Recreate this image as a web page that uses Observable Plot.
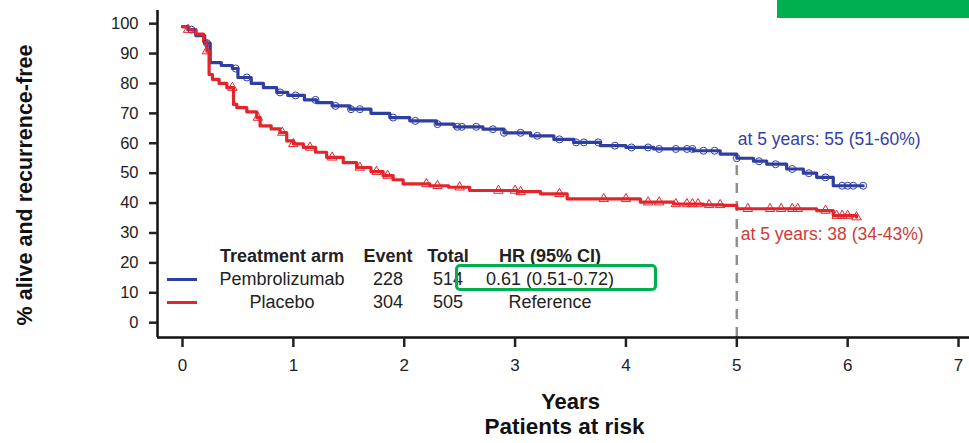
<!DOCTYPE html>
<html>
<head>
<meta charset="utf-8">
<script src="https://cdn.jsdelivr.net/npm/d3@7"></script>
<script src="https://cdn.jsdelivr.net/npm/@observablehq/plot@0.6"></script>
<style>
  html, body { margin: 0; padding: 0; background: #fff; }
  #wrap { position: relative; width: 969px; height: 443px; font-family: "Liberation Sans", Arial, sans-serif; color: #222; }
  .cell { position: absolute; transform: translate(-50%, -50%); white-space: nowrap; font-size: 18px; }
  .hdr { font-weight: bold; }
  .lline { position: absolute; height: 3px; }
</style>
</head>
<body>
<div id="wrap"></div>
<script>
// ---- data ----
const pembroT = [0, 0.05, 0.12, 0.2, 0.25, 0.35, 0.45, 0.5, 0.62, 0.73, 0.85, 0.95, 1.1, 1.21, 1.35, 1.51, 1.7, 1.87, 2.05, 2.29, 2.45, 2.71, 2.9, 3.14, 3.35, 3.53, 3.77, 4.0, 4.25, 4.61, 4.85, 5.0, 5.15, 5.27, 5.45, 5.6, 5.72, 5.87, 6.14];
const pembroS = [99, 98, 96, 93.5, 87, 86, 85, 82, 80, 78.6, 77, 76, 74.5, 73.6, 72.5, 71.4, 70, 68.6, 67.5, 66.4, 65.5, 64.7, 63.5, 62.5, 61.3, 60.3, 59.2, 58.6, 58.1, 57.5, 56.4, 55, 54, 53, 51.4, 50, 48.6, 45.8, 45.8];
const placeboT = [0, 0.05, 0.12, 0.19, 0.22, 0.24, 0.27, 0.33, 0.40, 0.46, 0.49, 0.58, 0.67, 0.70, 0.80, 0.88, 0.94, 1.0, 1.09, 1.2, 1.30, 1.45, 1.57, 1.7, 1.81, 1.9, 1.99, 2.23, 2.4, 2.59, 3.02, 3.23, 3.47, 3.83, 4.13, 4.43, 4.7, 4.88, 5.0, 5.27, 5.72, 5.87, 6.08];
const placeboS = [99, 98, 96.5, 94, 90.8, 83, 81.4, 80, 78.6, 73, 71.9, 70.5, 68.6, 65.8, 64.8, 63.6, 60.8, 59.8, 58.6, 57, 55.3, 53.5, 51.9, 50.5, 49.2, 47.8, 46.4, 45.8, 45.3, 44.2, 43.8, 43.1, 41.4, 41.4, 40.3, 39.7, 39.4, 39.2, 38.1, 38.1, 37.5, 35.8, 35.3];
const pembroCensor = [0.08, 0.22, 0.48, 0.58, 0.88, 1.02, 1.2, 1.38, 1.52, 1.6, 1.9, 2.1, 2.3, 2.48, 2.52, 2.65, 2.8, 2.9, 3.05, 3.2, 3.4, 3.55, 3.62, 3.75, 3.9, 4.05, 4.2, 4.3, 4.45, 4.55, 4.6, 4.7, 4.8, 5.0, 5.2, 5.35, 5.5, 5.65, 5.8, 5.95, 6.0, 6.05, 6.14];
const placeboCensor = [0.05, 0.22, 0.45, 0.68, 0.9, 1.0, 1.15, 1.35, 1.6, 1.75, 1.85, 2.2, 2.3, 2.5, 2.85, 3.0, 3.05, 3.4, 3.8, 4.0, 4.2, 4.3, 4.45, 4.55, 4.6, 4.65, 4.75, 4.85, 5.1, 5.3, 5.4, 5.5, 5.55, 5.8, 5.9, 5.95, 6.0, 6.08];
const xTicks = [0, 1, 2, 3, 4, 5, 6, 7];
const yTicks = [0, 10, 20, 30, 40, 50, 60, 70, 80, 90, 100];
const landmarkYear = 5;
const landmarkValues = [55, 38];
const landmarkLabels = ["at 5 years: 55 (51-60%)", "at 5 years: 38 (34-43%)"];
const legendHeaders = ["Treatment arm", "Event", "Total", "HR (95% CI)"];
const arms = ["Pembrolizumab", "Placebo"];
const events = [228, 304];
const totals = [514, 505];
const hrs = ["0.61 (0.51-0.72)", "Reference"];
const yLabel = "% alive and recurrence-free";
const xLabel = "Years";
const riskLabel = "Patients at risk";

// ---- styles ----
const colors = ["#2f3ea3", "#e3242b"];
const textColors = ["#3340a8", "#d23a36"];
const green = "#00b050";

// ---- build ----
const toRows = (T, S, arm) => T.map((t, i) => ({t, s: S[i], arm}));
const curves = [...toRows(pembroT, pembroS, arms[0]), ...toRows(placeboT, placeboS, arms[1])];
const stepAt = (T, S, t) => { let v = S[0]; for (let i = 0; i < T.length; i++) if (T[i] <= t) v = S[i]; return v; };
const censorP = pembroCensor.map(t => ({t, s: stepAt(pembroT, pembroS, t)}));
const censorR = placeboCensor.map(t => ({t, s: stepAt(placeboT, placeboS, t)}));
const xDom = [-0.2255, 7.099];
const yDom = [-4.95, 104.4];

const chart = Plot.plot({
  width: 969, height: 443,
  marginLeft: 157, marginRight: 0, marginTop: 10, marginBottom: 106,
  x: {domain: xDom, axis: null},
  y: {domain: yDom, axis: null},
  style: {fontFamily: "'Liberation Sans', Arial, sans-serif", background: "white", color: "#222"},
  marks: [
    Plot.ruleX([landmarkYear], {y1: yDom[0], y2: landmarkValues[0], stroke: "#8f8f8f", strokeWidth: 2.5, strokeDasharray: "10,8"}),
    Plot.line(curves, {x: "t", y: "s", z: "arm", stroke: d => d.arm === arms[0] ? colors[0] : colors[1], strokeWidth: 3.2, curve: "step-after"}),
    Plot.dot(censorP, {x: "t", y: "s", symbol: "circle", r: 3.5, stroke: colors[0], strokeWidth: 1, fill: "none"}),
    Plot.dot(censorR, {x: "t", y: "s", symbol: "triangle", r: 3.5, stroke: colors[1], strokeWidth: 1, fill: "none"}),
    Plot.ruleX([xDom[0]], {stroke: "#111", strokeWidth: 2.5}),
    Plot.ruleY([yDom[0]], {stroke: "#111", strokeWidth: 2.5}),
    Plot.axisY({ticks: yTicks, anchor: "left", tickSize: 8, tickPadding: 11, fontSize: 16.5, strokeWidth: 2.5, label: null}),
    Plot.axisX({ticks: xTicks, anchor: "bottom", tickSize: 10, tickPadding: 11, fontSize: 17, strokeWidth: 2.5, label: null}),
    Plot.text([landmarkLabels[0]], {x: landmarkYear, y: landmarkValues[0], dx: 1, dy: -19, textAnchor: "start", fill: textColors[0], fontSize: 17.5}),
    Plot.text([landmarkLabels[1]], {x: landmarkYear, y: landmarkValues[1], dx: 4, dy: 25, textAnchor: "start", fill: textColors[1], fontSize: 17.5}),
    Plot.text([xLabel], {frameAnchor: "bottom", dx: 7, dy: 71, fontSize: 22, fontWeight: "bold", fill: "#111"}),
    Plot.text([riskLabel], {frameAnchor: "bottom", dx: 1, dy: 96, fontSize: 22.5, fontWeight: "bold", fill: "#111"}),
    Plot.text([yLabel], {frameAnchor: "left", textAnchor: "middle", rotate: -90, dx: -132, dy: 11, fontSize: 21.5, fontWeight: "bold", fill: "#111"})
  ]
});
const wrap = document.getElementById("wrap");
wrap.appendChild(chart);
chart.style.position = "absolute"; chart.style.left = "0"; chart.style.top = "0";

// legend table overlay
const colX = [282, 388, 448, 550];
const rowY = [256, 279, 302];
function cell(text, x, y, cls) {
  const s = document.createElement("span");
  s.className = "cell" + (cls ? " " + cls : "");
  s.textContent = text;
  s.style.left = x + "px"; s.style.top = y + "px";
  wrap.appendChild(s);
}
legendHeaders.forEach((h, i) => cell(h, colX[i], rowY[0], "hdr"));
arms.forEach((a, r) => {
  cell(a, colX[0], rowY[r + 1]);
  cell(String(events[r]), colX[1], rowY[r + 1]);
  cell(String(totals[r]), colX[2], rowY[r + 1]);
  cell(hrs[r], colX[3], rowY[r + 1]);
  const l = document.createElement("div");
  l.className = "lline";
  l.style.left = "167px"; l.style.width = "30px";
  l.style.top = (rowY[r + 1] - 1.5) + "px";
  l.style.background = colors[r];
  wrap.appendChild(l);
});
// green highlight box and top bar
const box = document.createElement("div");
Object.assign(box.style, {position: "absolute", left: "455px", top: "264px", width: "202px", height: "27px", border: "3px solid " + green, borderRadius: "5px", boxSizing: "border-box"});
wrap.appendChild(box);
const bar = document.createElement("div");
Object.assign(bar.style, {position: "absolute", left: "777px", top: "0px", width: "192px", height: "18px", background: green});
wrap.appendChild(bar);
</script>
</body>
</html>
